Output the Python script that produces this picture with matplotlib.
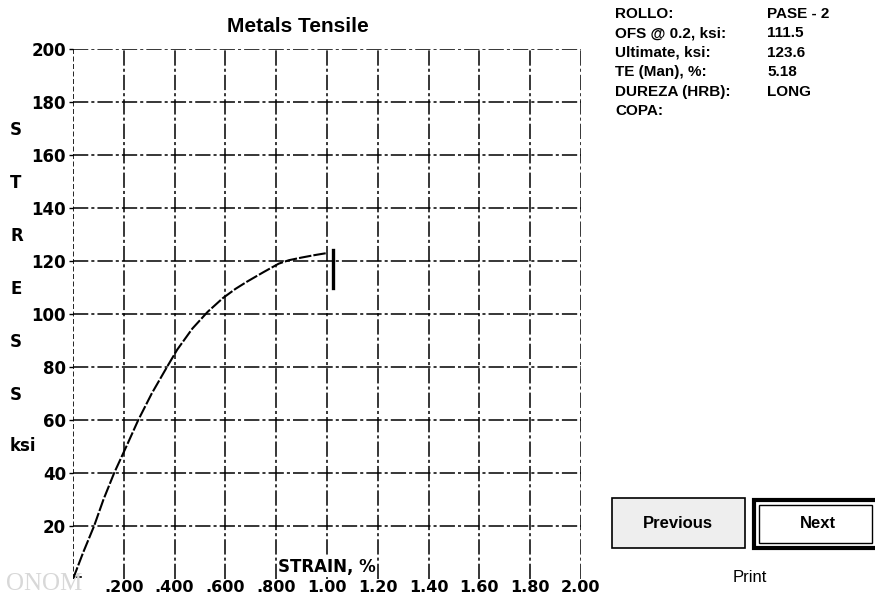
import matplotlib
matplotlib.use('Agg')
import matplotlib.pyplot as plt
from matplotlib.patches import Rectangle

# stress-strain trace
strain = [0.0, 0.04, 0.083, 0.12, 0.162, 0.21, 0.257, 0.31, 0.37, 0.41,
          0.47, 0.53, 0.59, 0.64, 0.685, 0.75, 0.81, 0.85, 0.90, 0.95,
          1.00]
stress = [0.0, 10.0, 20.0, 30.0, 40.0, 50.0, 60.0, 70.0, 80.0, 86.5,
          94.5, 100.8, 106.0, 109.5, 112.2, 115.8, 119.0, 120.3, 121.3,
          122.2, 123.0]
break_strain = 1.022
break_stress = [110.0, 124.0]

x_ticks = [0.2, 0.4, 0.6, 0.8, 1.0, 1.2, 1.4, 1.6, 1.8, 2.0]
x_labels = ['.200', '.400', '.600', '.800', '1.00', '1.20', '1.40', '1.60',
            '1.80', '2.00']
y_ticks = [20, 40, 60, 80, 100, 120, 140, 160, 180, 200]

info_keys = ['ROLLO:', 'OFS @ 0.2, ksi:', 'Ultimate, ksi:', 'TE (Man), %:',
             'DUREZA (HRB):', 'COPA:']
info_vals = ['PASE - 2', '111.5', '123.6', '5.18', 'LONG', '']

W, H = 875, 600
fig = plt.figure(figsize=(W / 100, H / 100), dpi=100)
ax = fig.add_axes([73 / W, 21 / H, 508 / W, 530 / H])
ax.set_xlim(0, 2.0)
ax.set_ylim(0, 200)

grid_kw = dict(color='black', lw=1.1, ls=(0, (10, 2, 2, 2)), zorder=1)
for yv in y_ticks:
    ax.axhline(yv, **grid_kw)
for xv in x_ticks:
    ax.axvline(xv, **grid_kw)
ax.axvline(0, color='black', lw=1.2, ls=(0, (3, 1.5)), zorder=1)

ax.plot(strain, stress, color='black', lw=1.5, ls=(0, (6, 1)), zorder=3)
ax.plot([0, 0.03], [0.8, 0.8], color='black', lw=1.2, zorder=3)
ax.plot([break_strain, break_strain], break_stress, color='black', lw=2.4,
        zorder=3)

for s in ax.spines.values():
    s.set_visible(False)
ax.set_xticks(x_ticks)
ax.set_xticklabels(x_labels, fontsize=11.5, fontweight='bold',
                   family='DejaVu Sans')
ax.set_yticks(y_ticks)
ax.set_yticklabels([str(v) for v in y_ticks], fontsize=12, fontweight='bold',
                   family='DejaVu Sans')
ax.tick_params(axis='x', length=0, pad=1)
ax.tick_params(axis='y', length=3, width=1, pad=2)

ax.text(1.0, 4.5, 'STRAIN, %', ha='center', va='center', fontsize=12,
        fontweight='bold', family='DejaVu Sans', zorder=4,
        bbox=dict(fc='white', ec='none', pad=0.5))
fig.text(298 / W, 1 - 27 / H, 'Metals Tensile', ha='center', va='center',
         fontsize=15, fontweight='bold', family='Liberation Sans')

# vertical axis caption, one letter per row
for i, ch in enumerate(['S', 'T', 'R', 'E', 'S', 'S', 'ksi']):
    y = 130 + i * 53.1 if ch != 'ksi' else 446
    fig.text(10 / W, 1 - y / H, ch, ha='left', va='center', fontsize=12,
             fontweight='bold', family='DejaVu Sans')

# summary table at the upper right
for i, (k, v) in enumerate(zip(info_keys, info_vals)):
    y = 1 - (14 + i * 19.4) / H
    fig.text(615 / W, y, k, ha='left', va='center', fontsize=11,
             fontweight='bold', family='Liberation Sans')
    fig.text(767 / W, y, v, ha='left', va='center', fontsize=11,
             fontweight='bold', family='Liberation Sans')

# buttons
fig.patches.append(Rectangle((612 / W, 1 - 548 / H), 133 / W, 50 / H,
                             transform=fig.transFigure, fc='#eeeeee',
                             ec='black', lw=1.2))
fig.patches.append(Rectangle((754 / W, 1 - 548 / H), 125 / W, 48 / H,
                             transform=fig.transFigure, fc='white',
                             ec='black', lw=3))
fig.patches.append(Rectangle((759 / W, 1 - 543 / H), 113 / W, 38 / H,
                             transform=fig.transFigure, fc='none',
                             ec='black', lw=1))
fig.text(678 / W, 1 - 523 / H, 'Previous', ha='center', va='center',
         fontsize=12, fontweight='bold', family='Liberation Sans')
fig.text(818 / W, 1 - 523 / H, 'Next', ha='center', va='center',
         fontsize=12, fontweight='bold', family='Liberation Sans')
fig.text(750 / W, 1 - 577 / H, 'Print', ha='center', va='center',
         fontsize=12, family='Liberation Sans')

fig.text(6 / W, 1 - 584 / H, 'ONOM', ha='left', va='center', fontsize=18,
         family='Liberation Serif', color='#d8d8d8', zorder=0)

fig.savefig('out.png', dpi=100, facecolor='white')
